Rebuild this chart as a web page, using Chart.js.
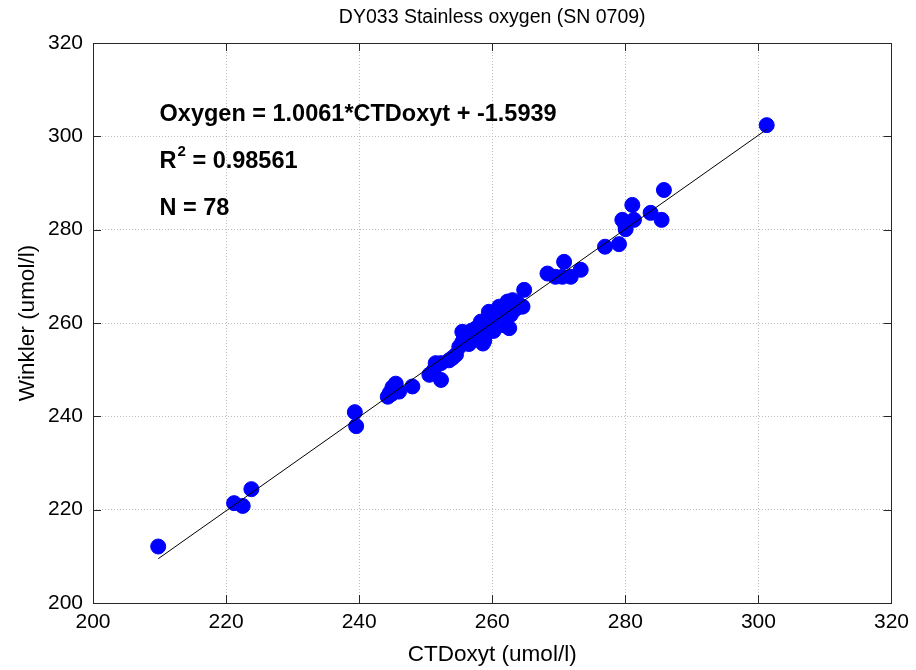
<!DOCTYPE html>
<html>
<head>
<meta charset="utf-8">
<script src="https://cdn.jsdelivr.net/npm/chart.js@4/dist/chart.umd.min.js"></script>
<style>
html,body{margin:0;padding:0;background:#fff;}
#wrap{width:916px;height:670px;position:relative;}
</style>
</head>
<body>
<div id="wrap"><canvas id="c" width="916" height="670"></canvas></div>
<script>
// ---- data ----
const ctdOxyt = [
 209.8, 221.2, 222.5, 223.8, 239.35, 239.55,
 244.3, 244.6, 245.0, 245.5, 246.0, 244.9, 248.0,
 250.55, 251.5, 252.3, 252.3, 251.2, 254.0, 254.55, 255.05, 255.5, 255.5,
 256.3, 256.8, 257.3, 258.3, 258.6, 258.8, 259.0, 259.5, 259.3, 260.0, 260.2,
 260.5, 261.05, 261.0, 261.5, 261.8, 262.3, 262.0, 262.55, 263.05, 262.8,
 263.5, 264.55, 264.8, 257.5, 256.0, 260.8,
 257.0, 258.0, 259.8, 260.5, 261.3, 262.0, 263.0, 263.8, 256.5, 253.5, 245.3,
 268.3, 269.5, 270.8, 270.55, 271.8, 273.3, 276.95, 279.05, 279.55, 280.05,
 280.0, 281.3, 281.05, 283.8, 285.45, 285.8, 301.25
];
const winkler = [
 212.1, 221.4, 220.8, 224.4, 240.9, 237.9,
 244.2, 245.0, 246.2, 247.0, 245.3, 244.8, 246.4,
 248.9, 251.4, 247.8, 251.4, 249.8, 252.5, 253.2, 254.9, 255.9, 258.1,
 257.5, 258.3, 256.6, 260.3, 255.6, 256.2, 257.5, 262.4, 259.5, 260.5, 258.3,
 262.0, 263.5, 260.0, 261.5, 259.5, 264.6, 262.5, 258.9, 264.9, 261.8,
 263.0, 263.5, 267.1, 258.8, 256.5, 261.0,
 257.8, 259.0, 261.2, 259.6, 262.8, 260.8, 262.5, 264.3, 255.5, 252.0, 245.6,
 270.6, 269.9, 273.1, 269.9, 269.9, 271.4, 276.35, 276.9, 282.1, 280.1,
 281.0, 282.1, 285.3, 283.6, 282.1, 288.5, 302.4
];
const fitSlope = 1.0061;
const fitIntercept = -1.5939;
const xTickValues = [200, 220, 240, 260, 280, 300, 320];
const yTickValues = [200, 220, 240, 260, 280, 300, 320];
const titleText = 'DY033 Stainless oxygen (SN 0709)';
const xLabel = 'CTDoxyt (umol/l)';
const yLabel = 'Winkler (umol/l)';
const eqText = 'Oxygen = 1.0061*CTDoxyt + -1.5939';
const r2Value = '0.98561';
const nText = 'N = 78';

const scatterPts = ctdOxyt.map((x, i) => ({x: x, y: winkler[i]}));
const xMin = Math.min(...ctdOxyt), xMax = Math.max(...ctdOxyt);
const fitPts = [xMin, xMax].map(x => ({x: x, y: fitSlope * x + fitIntercept}));

const FONT = '"Liberation Sans", Arial, sans-serif';

const decor = {
  id: 'decor',
  afterDatasetsDraw(chart) {
    const ctx = chart.ctx, a = chart.chartArea;
    const xs = chart.scales.x, ys = chart.scales.y;
    ctx.save();
    // box
    ctx.strokeStyle = '#262626';
    ctx.lineWidth = 1;
    ctx.strokeRect(Math.round(a.left) + 0.5, Math.round(a.top) + 0.5,
                   Math.round(a.right - a.left), Math.round(a.bottom - a.top));
    // inner ticks
    const tl = 8;
    ctx.beginPath();
    xTickValues.forEach(v => {
      const px = Math.round(xs.getPixelForValue(v)) + 0.5;
      ctx.moveTo(px, a.bottom); ctx.lineTo(px, a.bottom - tl);
      ctx.moveTo(px, a.top); ctx.lineTo(px, a.top + tl);
    });
    yTickValues.forEach(v => {
      const py = Math.round(ys.getPixelForValue(v)) + 0.5;
      ctx.moveTo(a.left, py); ctx.lineTo(a.left + tl, py);
      ctx.moveTo(a.right, py); ctx.lineTo(a.right - tl, py);
    });
    ctx.stroke();

    // annotations
    ctx.fillStyle = '#000';
    const AF = 23.5;
    ctx.font = 'bold ' + AF + 'px ' + FONT;
    ctx.textBaseline = 'middle';
    ctx.textAlign = 'left';
    const ax = xs.getPixelForValue(210);
    ctx.fillText(eqText, ax, ys.getPixelForValue(304.6));
    const ry = ys.getPixelForValue(294.6);
    ctx.fillText('R', ax, ry);
    let w = ctx.measureText('R').width;
    ctx.font = 'bold 15px ' + FONT;
    ctx.fillText('2', ax + w + 1, ry - 10);
    const w2 = ctx.measureText('2').width;
    ctx.font = 'bold ' + AF + 'px ' + FONT;
    ctx.fillText(' = ' + r2Value, ax + w + 1 + w2, ry);
    ctx.fillText(nText, ax, ys.getPixelForValue(284.5));

    // title & axis labels
    ctx.font = '19.5px ' + FONT;
    ctx.textAlign = 'center';
    ctx.fillText(titleText, (a.left + a.right) / 2, 18);
    ctx.font = '22.5px ' + FONT;
    ctx.fillText(xLabel, (a.left + a.right) / 2, 655);
    ctx.save();
    ctx.translate(28, (a.top + a.bottom) / 2);
    ctx.rotate(-Math.PI / 2);
    ctx.fillText(yLabel, 0, 0);
    ctx.restore();
    ctx.restore();
  }
};

new Chart(document.getElementById('c'), {
  type: 'scatter',
  data: {
    datasets: [
      {
        type: 'line',
        data: fitPts,
        borderColor: '#000',
        borderWidth: 1,
        pointRadius: 0,
        fill: false,
        order: 0
      },
      {
        data: scatterPts,
        backgroundColor: '#0000ff',
        borderColor: '#0000ff',
        borderWidth: 1,
        pointRadius: 7.5,
        pointHoverRadius: 7.5,
        order: 1
      }
    ]
  },
  options: {
    responsive: false,
    animation: false,
    devicePixelRatio: 1,
    layout: {padding: {left: 0, right: 23, top: 43, bottom: 0}},
    plugins: {legend: {display: false}, tooltip: {enabled: false}, title: {display: false}},
    scales: {
      x: {
        type: 'linear', min: 200, max: 320,
        afterBuildTicks: s => { s.ticks = xTickValues.map(v => ({value: v})); },
        afterFit: s => { s.height = 67; },
        grid: {color: '#bdbdbd', drawTicks: false, lineWidth: 1},
        border: {display: false, dash: [1, 2]},
        ticks: {color: '#000', font: {family: FONT, size: 21}, padding: 7, maxRotation: 0, autoSkip: false}
      },
      y: {
        type: 'linear', min: 200, max: 320,
        afterBuildTicks: s => { s.ticks = yTickValues.map(v => ({value: v})); },
        afterFit: s => { s.width = 93; },
        grid: {color: '#bdbdbd', drawTicks: false, lineWidth: 1},
        border: {display: false, dash: [1, 2]},
        ticks: {color: '#000', font: {family: FONT, size: 21}, padding: 10, autoSkip: false}
      }
    }
  },
  plugins: [decor]
});
</script>
</body>
</html>
